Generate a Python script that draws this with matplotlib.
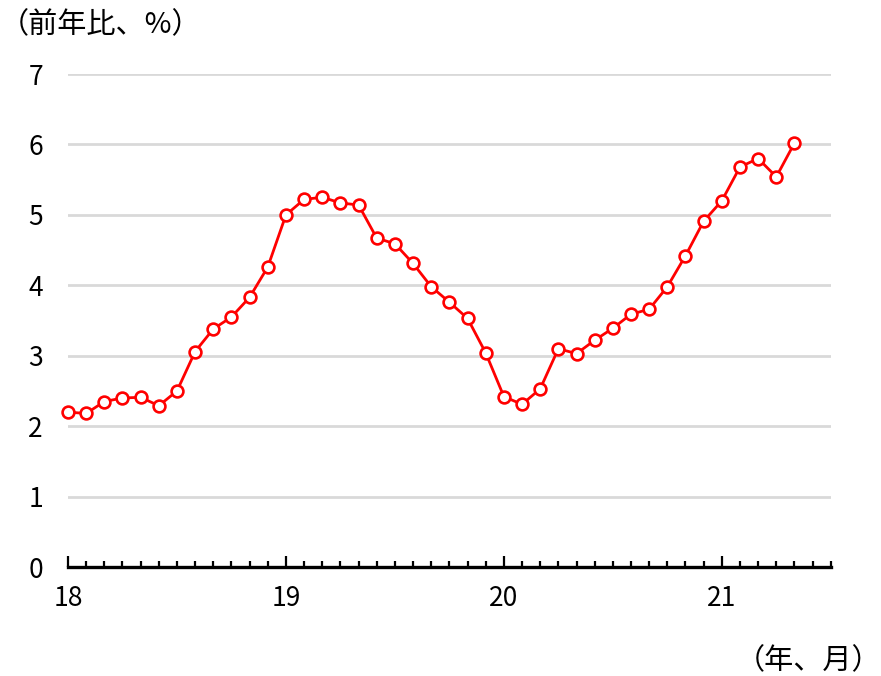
import numpy as np
import matplotlib
matplotlib.use("Agg")
import matplotlib.pyplot as plt
from matplotlib.ticker import MultipleLocator

plt.rcParams['font.family'] = ['Noto Sans CJK JP', 'DejaVu Sans']

# monthly, Jan 2018 - May 2021
values = [2.20, 2.18, 2.35, 2.40, 2.41, 2.29, 2.50, 3.06, 3.38, 3.55, 3.83, 4.26,
          5.00, 5.22, 5.25, 5.17, 5.14, 4.67, 4.59, 4.31, 3.98, 3.76, 3.53, 3.04,
          2.42, 2.31, 2.53, 3.10, 3.03, 3.22, 3.39, 3.59, 3.66, 3.98, 4.42, 4.91,
          5.20, 5.68, 5.80, 5.54, 6.02]
year_labels = ['18', '19', '20', '21']
yticks = [0, 1, 2, 3, 4, 5, 6, 7]

x = np.arange(len(values))

fig = plt.figure(figsize=(8.81, 6.76), dpi=100)
ax = fig.add_axes([0.0772, 0.1612, 0.8658, 0.7293])

ax.plot(x, values, color='#ff0000', lw=2.0, marker='o', ms=8.5,
        mfc='white', mec='#ff0000', mew=1.9, zorder=3, clip_on=False)

ax.set_xlim(0, 42)
ax.set_ylim(0, 7)
ax.set_yticks(yticks)
ax.set_yticklabels([str(v) for v in yticks], fontsize=19)
ax.grid(axis='y', color='#d9d9d9', lw=2.0)
ax.set_axisbelow(True)

ax.set_xticks([0, 12, 24, 36])
ax.set_xticklabels(year_labels, fontsize=19)
ax.xaxis.set_minor_locator(MultipleLocator(1))
ax.tick_params(axis='x', which='major', direction='in', length=8, width=1.6,
               pad=13, color='black')
ax.tick_params(axis='x', which='minor', direction='in', length=4.5, width=1.6,
               color='black')
ax.tick_params(axis='y', length=0, pad=18)

for s in ['top', 'right', 'left']:
    ax.spines[s].set_visible(False)
ax.spines['bottom'].set_linewidth(2.4)
ax.spines['bottom'].set_color('black')

fig.text(0.0, 0.963, '（前年比、%）', fontsize=21, ha='left', va='center')
fig.text(1.0, 0.022, '（年、月）', fontsize=21, ha='right', va='center')

fig.savefig('out.png', dpi=100, facecolor='white')
